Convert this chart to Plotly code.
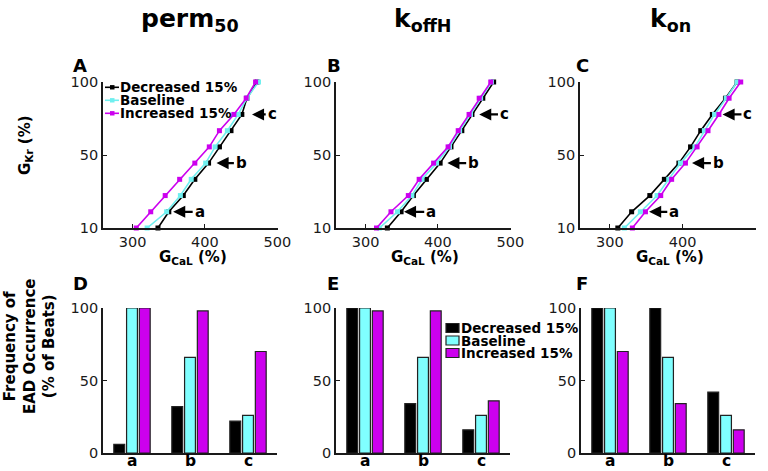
import plotly.graph_objects as go

W, H = 768, 471

# ---------------- data ----------------
gkr_levels = [10, 20, 30, 40, 50, 60, 70, 80, 90, 100]
gkr_tickvals = [10, 55, 100]
gkr_ticktext = ["10", "50", "100"]
gcal_tickvals = [300, 400, 500]

perm50_dec = [335, 350, 370, 386, 405, 420, 436, 451, 458, 472]
perm50_base = [320, 347, 366, 381, 401, 414, 431, 446, 458, 474]
perm50_inc = [305, 325, 345, 365, 386, 406, 420, 440, 457, 470]

koffH_dec = [330, 349, 366, 384, 403, 418, 433, 447, 462, 477]
koffH_base = [319, 344, 364, 378, 398, 416, 430, 445, 459, 474]
koffH_inc = [315, 335, 359, 374, 394, 414, 428, 443, 457, 473]

kon_dec = [311, 330, 355, 375, 395, 411, 425, 441, 459, 475]
kon_base = [320, 342, 365, 381, 397, 417, 430, 444, 460, 475]
kon_inc = [331, 349, 370, 385, 404, 420, 435, 450, 464, 480]

categories = ["a", "b", "c"]
perm50_bar_dec = [6, 32, 22]
perm50_bar_base = [100, 66, 26]
perm50_bar_inc = [100, 98, 70]
koffH_bar_dec = [100, 34, 16]
koffH_bar_base = [100, 66, 26]
koffH_bar_inc = [98, 98, 36]
kon_bar_dec = [100, 100, 42]
kon_bar_base = [100, 66, 26]
kon_bar_inc = [70, 34, 16]
bar_tickvals = [0, 50, 100]

series_names = ["Decreased 15%", "Baseline", "Increased 15%"]
column_titles = ["perm<sub>50</sub>", "k<sub>offH</sub>", "k<sub>on</sub>"]
panel_letters_top = ["A", "B", "C"]
panel_letters_bottom = ["D", "E", "F"]

# arrow markers: G_Kr level, arrow tip and label start (G_CaL units) per top panel
arrow_levels = [20, 50, 80]
arrow_tips = [[356, 416, 465], [353, 413, 457], [354, 413, 455]]
arrow_label_x = [[383, 440, 484], [381, 439, 483], [379, 439, 481]]

# ---------------- styles ----------------
COL_DEC = "#000000"
COL_BASE_LINE = "#6FEFEF"
COL_BASE_BAR = "#80FFFF"
COL_INC = "#CC00EE"
AX = "#1a1a1a"
FONT = "DejaVu Sans"


def fx(px):
    return px / W


def fy(py):
    return 1 - py / H


top_x_dom = [(103, 278), (336, 511), (580, 756)]
bot_x_dom = [(103, 277), (336, 510), (581, 755)]
top_y_dom = (228, 82)
bot_y_dom = (453, 308)

fig = go.Figure()

line_sets = [
    (perm50_dec, perm50_base, perm50_inc),
    (koffH_dec, koffH_base, koffH_inc),
    (kon_dec, kon_base, kon_inc),
]
bar_sets = [
    (perm50_bar_dec, perm50_bar_base, perm50_bar_inc),
    (koffH_bar_dec, koffH_bar_base, koffH_bar_inc),
    (kon_bar_dec, kon_bar_base, kon_bar_inc),
]

for i in range(3):
    xa = "x" if i == 0 else f"x{i + 1}"
    ya = "y" if i == 0 else f"y{i + 1}"
    for vals, name, col in zip(line_sets[i], series_names, [COL_DEC, COL_BASE_LINE, COL_INC]):
        fig.add_trace(go.Scatter(
            x=vals, y=gkr_levels, mode="lines+markers", name=name,
            line=dict(color=col, width=1.6),
            marker=dict(color=col, size=5, symbol="square"),
            xaxis=xa, yaxis=ya, showlegend=False, cliponaxis=False))

for i in range(3):
    xa = f"x{i + 4}"
    ya = f"y{i + 4}"
    for vals, name, col in zip(bar_sets[i], series_names, [COL_DEC, COL_BASE_BAR, COL_INC]):
        fig.add_trace(go.Bar(
            x=categories, y=vals, name=name,
            marker=dict(color=col, line=dict(color="#222222", width=1.2)),
            xaxis=xa, yaxis=ya, showlegend=False))

axis_common = dict(showline=True, linecolor=AX, linewidth=1.6, ticks="inside",
                   ticklen=4, tickwidth=1.4, tickcolor=AX, showgrid=False,
                   zeroline=False, automargin=False,
                   tickfont=dict(size=14.5, color=AX, family=FONT))

layout = dict(
    width=W, height=H, autosize=False,
    margin=dict(l=0, r=0, t=0, b=0),
    paper_bgcolor="white", plot_bgcolor="white",
    font=dict(family=FONT, color="black"),
    barmode="group", bargap=0.34, bargroupgap=0.15,
    showlegend=False,
)

for i in range(3):
    xk = "xaxis" if i == 0 else f"xaxis{i + 1}"
    yk = "yaxis" if i == 0 else f"yaxis{i + 1}"
    xa = "x" if i == 0 else f"x{i + 1}"
    ya = "y" if i == 0 else f"y{i + 1}"
    layout[xk] = dict(axis_common, domain=[fx(top_x_dom[i][0]), fx(top_x_dom[i][1])],
                      anchor=ya, range=[259, 501], tickvals=gcal_tickvals)
    layout[yk] = dict(axis_common, domain=[fy(top_y_dom[0]), fy(top_y_dom[1])],
                      anchor=xa, range=[10, 100], tickvals=gkr_tickvals,
                      ticktext=gkr_ticktext)

for i in range(3):
    xk = f"xaxis{i + 4}"
    yk = f"yaxis{i + 4}"
    layout[xk] = dict(axis_common, domain=[fx(bot_x_dom[i][0]), fx(bot_x_dom[i][1])],
                      anchor=f"y{i + 4}", range=[-0.5, 2.5], ticks="",
                      showticklabels=False)
    layout[yk] = dict(axis_common, domain=[fy(bot_y_dom[0]), fy(bot_y_dom[1])],
                      anchor=f"x{i + 4}", range=[0, 100], tickvals=bar_tickvals)

fig.update_layout(**layout)

ann = []
shapes = []

# category labels under bar panels
for i in range(3):
    for k, cat in enumerate(categories):
        ann.append(dict(text=f"<b>{cat}</b>", x=k, y=0, xref=f"x{i + 4}",
                        yref="paper", xanchor="center", yanchor="bottom", showarrow=False,
                        borderpad=0, font=dict(size=15.5, family=FONT, color="black")))

# column titles
col_centers = [190, 423, 670]
for t, cx in zip(column_titles, col_centers):
    ann.append(dict(text=f"<b>{t}</b>", x=fx(cx), y=fy(20), xref="paper", yref="paper",
                    xanchor="center", yanchor="middle", showarrow=False,
                    font=dict(size=25, family=FONT, color="black")))

# panel letters
for L, px in zip(panel_letters_top, [71, 325, 574]):
    ann.append(dict(text=f"<b>{L}</b>", x=fx(px), y=fy(66), xref="paper", yref="paper",
                    xanchor="left", yanchor="middle", showarrow=False,
                    font=dict(size=18, family=FONT, color="black")))
for L, px in zip(panel_letters_bottom, [71, 325, 574]):
    ann.append(dict(text=f"<b>{L}</b>", x=fx(px), y=fy(283), xref="paper", yref="paper",
                    xanchor="left", yanchor="middle", showarrow=False,
                    font=dict(size=18, family=FONT, color="black")))

# x axis titles (top row)
for cx in [193, 425, 670]:
    ann.append(dict(text="<b>G<sub>CaL</sub> (%)</b>", x=fx(cx), y=fy(257), xref="paper",
                    yref="paper", xanchor="center", yanchor="middle", showarrow=False,
                    borderpad=0, font=dict(size=15, family=FONT, color="black")))

# y axis titles
ann.append(dict(text="<b>G<sub>Kr</sub> (%)</b>", x=fx(26), y=fy(145), xref="paper",
                yref="paper", xanchor="center", yanchor="middle", showarrow=False,
                textangle=-90, font=dict(size=15, family=FONT, color="black")))
ann.append(dict(text="<b>Frequency of<br>EAD Occurrence<br>(% of Beats)</b>", x=fx(29),
                y=fy(347), xref="paper", yref="paper", xanchor="center", yanchor="middle",
                showarrow=False, textangle=-90,
                font=dict(size=15, family=FONT, color="black")))

# arrows pointing at the marked points, with their labels
for i in range(3):
    xa = "x" if i == 0 else f"x{i + 1}"
    ya = "y" if i == 0 else f"y{i + 1}"
    for k in range(3):
        lvl = arrow_levels[k]
        ann.append(dict(text=f"<b>{categories[k]}</b>", x=arrow_tips[i][k], y=lvl,
                        ax=arrow_label_x[i][k], ay=lvl,
                        xref=xa, yref=ya, axref=xa, ayref=ya, showarrow=True,
                        xanchor="left", yanchor="middle",
                        arrowhead=2, arrowsize=1.1, arrowwidth=2.2, arrowcolor="black",
                        standoff=0, font=dict(size=15, family=FONT, color="black")))

# legend for line plots (panel A)
leg_cols_line = [COL_DEC, COL_BASE_LINE, COL_INC]
for k, (name, col) in enumerate(zip(series_names, leg_cols_line)):
    yc = 87.3 + 13 * k
    shapes.append(dict(type="line", xref="paper", yref="paper", x0=fx(105), x1=fx(119),
                       y0=fy(yc), y1=fy(yc), line=dict(color=col, width=1.6)))
    shapes.append(dict(type="rect", xref="paper", yref="paper", x0=fx(110), x1=fx(114.5),
                       y0=fy(yc - 2.2), y1=fy(yc + 2.2), fillcolor=col,
                       line=dict(color=col, width=0)))
    ann.append(dict(text=f"<b>{name}</b>", x=fx(119), y=fy(yc), xref="paper", yref="paper",
                    xanchor="left", yanchor="middle", showarrow=False, borderpad=0,
                    font=dict(size=13.5, family=FONT, color="black")))

# legend for bar plots (panel E)
leg_cols_bar = [COL_DEC, COL_BASE_BAR, COL_INC]
for k, (name, col) in enumerate(zip(series_names, leg_cols_bar)):
    yc = 328 + 12.5 * k
    shapes.append(dict(type="rect", xref="paper", yref="paper", x0=fx(446), x1=fx(459),
                       y0=fy(yc - 4.5), y1=fy(yc + 4.5), fillcolor=col,
                       line=dict(color="#222222", width=1.2)))
    ann.append(dict(text=f"<b>{name}</b>", x=fx(460), y=fy(yc), xref="paper", yref="paper",
                    xanchor="left", yanchor="middle", showarrow=False, borderpad=0,
                    font=dict(size=13.5, family=FONT, color="black")))

fig.update_layout(annotations=ann, shapes=shapes)
fig.write_html("out.html", config={"displayModeBar": False},
               post_script="document.body.style.margin='0';document.body.style.padding='0';")
